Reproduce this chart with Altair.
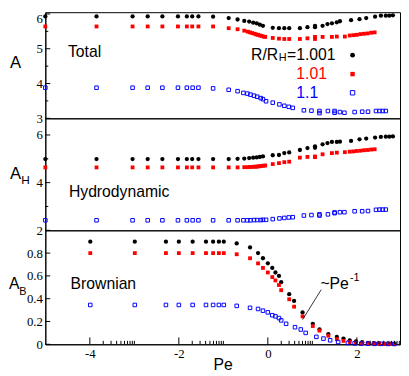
import math
import altair as alt
import pandas as pd

# ---------------- data (x = log10 Pe) ----------------
# upper two panels (A and A_H) share x positions per series
x_black = [-5, -3.85, -3.04, -2.70, -2.37, -2.02, -1.82, -1.70, -1.56, -1.23, -0.88, -0.68, -0.53,
           -0.42, -0.33, -0.25, -0.18, -0.11, 0.11, 0.25, 0.37, 0.48, 0.72, 0.89, 1.06, 1.06, 1.23,
           1.34, 1.44, 1.55, 1.62, 1.87, 2.06, 2.21, 2.41, 2.54, 2.65, 2.73, 2.81]
A_black = [5.93] * 9 + [5.92, 5.88, 5.84, 5.80, 5.78, 5.75, 5.73, 5.69, 5.66, 5.60, 5.59, 5.59, 5.59,
                        5.59, 5.62, 5.62, 5.66, 5.66, 5.71, 5.73, 5.76, 5.79, 5.82, 5.85, 5.88, 5.92,
                        5.95, 5.95, 5.95, 5.96]
AH_black = [4.99] * 9 + [4.99, 4.99, 5.00, 5.01, 5.03, 5.05, 5.06, 5.08, 5.10, 5.15, 5.16, 5.24, 5.27,
                         5.37, 5.45, 5.46, 5.52, 5.61, 5.66, 5.71, 5.71, 5.72, 5.75, 5.82, 5.85, 5.89,
                         5.92, 5.93, 5.93, 5.94]

x_red = [-5, -3.85, -3.04, -2.70, -2.37, -2.02, -1.82, -1.70, -1.56, -1.23, -0.88, -0.68, -0.53, -0.45,
         -0.40, -0.35, -0.30, -0.26, -0.22, -0.18, -0.14, -0.10, -0.06, 0.11, 0.25, 0.37, 0.48, 0.72,
         0.89, 1.06, 1.06, 1.23, 1.44, 1.55, 1.73, 1.84, 1.92, 2.00, 2.08, 2.16, 2.24, 2.32, 2.40]
A_red = [5.64] * 10 + [5.59, 5.56, 5.52, 5.49, 5.47, 5.45, 5.43, 5.41, 5.40, 5.38, 5.37, 5.35, 5.34,
                       5.31, 5.29, 5.28, 5.28, 5.28, 5.30, 5.34, 5.28, 5.34, 5.34, 5.35, 5.35,
                       5.38, 5.39, 5.40, 5.42, 5.43, 5.44, 5.46, 5.47]
AH_red = [4.64] * 10 + [4.64, 4.64, 4.65, 4.65, 4.66, 4.66, 4.67, 4.67, 4.68, 4.69, 4.70, 4.71, 4.72,
                        4.78, 4.82, 4.86, 4.88, 5.05, 5.08, 5.10, 5.07, 5.19, 5.24, 5.26, 5.28,
                        5.30, 5.31, 5.33, 5.34, 5.36, 5.37, 5.39, 5.40]

x_blue = [-5, -3.85, -3.04, -2.70, -2.37, -2.02, -1.82, -1.69, -1.56, -1.23, -0.88, -0.68, -0.55, -0.46,
          -0.39, -0.31, -0.24, -0.16, -0.11, -0.04, 0.11, 0.26, 0.37, 0.47, 0.56, 0.81, 0.98, 1.16,
          1.16, 1.35, 1.50, 1.50, 1.62, 1.72, 1.95, 2.12, 2.25, 2.43, 2.51, 2.58, 2.65]
A_blue = [3.88] * 9 + [3.86, 3.82, 3.78, 3.73, 3.71, 3.68, 3.65, 3.62, 3.58, 3.55, 3.49, 3.45, 3.40,
                       3.36, 3.33, 3.30, 3.23, 3.22, 3.21, 3.15, 3.21, 3.21, 3.16, 3.18, 3.16, 3.18,
                       3.19, 3.19, 3.21, 3.21, 3.21, 3.21]
AH_blue = [2.42] * 10 + [2.42, 2.42, 2.42, 2.42, 2.42, 2.43, 2.43, 2.43, 2.44, 2.44, 2.47, 2.50, 2.52,
                         2.54, 2.55, 2.62, 2.64, 2.67, 2.62, 2.67, 2.72, 2.75, 2.76, 2.76, 2.80, 2.80,
                         2.81, 2.86, 2.87, 2.87, 2.87]

# bottom panel (A_B)
xb_dots = [-3.99, -2.99, -2.29, -2.0, -1.69, -1.39, -1.23, -1.10, -0.99, -0.70, -0.40, -0.22, -0.11,
           0.0, 0.10, 0.17, 0.25, 0.30, 0.48, 0.59, 0.78, 1.01, 1.16, 1.36, 1.55, 1.70, 1.84, 1.98,
           2.12, 2.25, 2.38, 2.50, 2.62, 2.74, 2.84]
AB_black = [0.90] * 9 + [0.885, 0.85, 0.80, 0.755, 0.71, 0.67, 0.63, 0.60, 0.545, 0.44, 0.38, 0.28,
                         0.18, 0.13, 0.09, 0.065, 0.05, 0.035, 0.025, 0.018, 0.013, 0.01, 0.008,
                         0.006, 0.005, 0.004]
AB_red = [0.80] * 9 + [0.79, 0.755, 0.71, 0.67, 0.63, 0.59, 0.56, 0.52, 0.475, 0.395, 0.33, 0.245,
                       0.16, 0.12, 0.075, 0.045, 0.03, 0.02, 0.015, 0.01, 0.008, 0.006, 0.005,
                       0.004, 0.003, 0.003]
xb_blue = [-3.99, -2.99, -2.29, -2.0, -1.69, -1.39, -1.23, -1.10, -0.99, -0.70, -0.40, -0.22, -0.11,
           0.0, 0.10, 0.17, 0.25, 0.30, 0.41, 0.61, 0.74, 0.85, 1.09, 1.25, 1.40, 1.58, 1.80, 1.95,
           2.10, 2.25, 2.40, 2.55, 2.70, 2.84]
AB_blue = [0.345] * 9 + [0.337, 0.32, 0.31, 0.295, 0.28, 0.255, 0.245, 0.23, 0.21, 0.18, 0.15, 0.13,
                         0.10, 0.065, 0.05, 0.035, 0.02, 0.012, 0.008, 0.006, 0.005, 0.004, 0.004,
                         0.003, 0.003]

pe_line_x = [0.78, 1.20]
pe_line_y = [0.216, 0.48]

legend_labels = ["1.001", "1.01", "1.1"]
x_major = [-4, -2, 0, 2]
y1_major, y1_minor = [3, 4, 5, 6], [3.5, 4.5, 5.5]
y2_major, y2_minor = [2, 4, 6], [3, 5]
y3_major = [0, 0.2, 0.4, 0.6, 0.8]

# ---------------- styling ----------------
W = 361
H1, H2, H3 = 108, 114, 116
XDOM = [-5, 2.97]
SANS = "Liberation Sans"
SERIF = "Liberation Serif"
BLACK, RED, BLUE = "#000000", "#ff0000", "#0000ff"

xscale = alt.Scale(domain=XDOM, nice=False, zero=False)


def df(xs, ys):
    return pd.DataFrame({"x": xs, "y": ys})


def pts(data, kind, yscale, xaxis, yaxis):
    if kind == "black":
        mk = alt.Chart(data).mark_point(shape="circle", filled=True, size=19, color=BLACK, opacity=1)
    elif kind == "red":
        mk = alt.Chart(data).mark_point(shape="square", filled=True, size=15, color=RED, opacity=1)
    else:
        mk = alt.Chart(data).mark_point(shape="square", filled=False, size=13, color=BLUE,
                                        strokeWidth=1, opacity=1)
    return mk.encode(x=alt.X("x:Q", scale=xscale, axis=xaxis),
                     y=alt.Y("y:Q", scale=yscale, axis=yaxis))


def yticks(vals, length, yscale, yaxis):
    return alt.Chart(pd.DataFrame({"y": vals})).mark_rule(color=BLACK, strokeWidth=1).encode(
        y=alt.Y("y:Q", scale=yscale, axis=yaxis), x=alt.value(0), x2=alt.value(length))


def xticks(vals, length, xaxis, h):
    return alt.Chart(pd.DataFrame({"x": vals})).mark_rule(color=BLACK, strokeWidth=1).encode(
        x=alt.X("x:Q", scale=xscale, axis=xaxis), y=alt.value(h), y2=alt.value(h - length))


def txt(s, x, y, size=16, color=BLACK, align="left", font=SANS):
    return alt.Chart(pd.DataFrame({"t": [s]})).mark_text(
        align=align, baseline="middle", fontSize=size, font=font, color=color).encode(
        x=alt.value(x), y=alt.value(y), text="t:N")


def sym(kind, x, y):
    d = pd.DataFrame({"k": [kind]})
    if kind == "black":
        m = alt.Chart(d).mark_point(shape="circle", filled=True, size=24, color=BLACK, opacity=1)
    elif kind == "red":
        m = alt.Chart(d).mark_point(shape="square", filled=True, size=20, color=RED, opacity=1)
    else:
        m = alt.Chart(d).mark_point(shape="square", filled=False, size=20, color=BLUE,
                                    strokeWidth=1, opacity=1)
    return m.encode(x=alt.value(x), y=alt.value(y))


def make_yaxis(vals, offset_top=None):
    extra = {}
    if offset_top is not None:
        extra["labelOffset"] = {"condition": {"test": "datum.value == %g" % offset_top, "value": 5},
                                "value": 0}
    return alt.Axis(values=vals, format="~g", title=None, ticks=False, tickSize=0, labelPadding=3,
                    labelFont=SERIF, labelFontSize=13, labelColor=BLACK, domainColor=BLACK,
                    grid=False, **extra)


# ---------------- top panel: A ----------------
ys1 = alt.Scale(domain=[3, 6.05], nice=False, zero=False)
ya1 = make_yaxis(y1_major, offset_top=6)
top = alt.layer(
    pts(df(x_black, A_black), "black", ys1, None, ya1),
    pts(df(x_red, A_red), "red", ys1, None, ya1),
    pts(df(x_blue, A_blue), "blue", ys1, None, ya1),
    yticks(y1_major, 5, ys1, ya1),
    yticks(y1_minor, 3, ys1, ya1),
    txt("A", -36, 52, size=17),
    txt("Total", 23, 41),
    txt("R/R", 237, 43.5, align="right"),
    txt("H", 237.5, 47, size=11),
    txt("=" + legend_labels[0], 246, 43.5),
    txt(legend_labels[1], 255.5, 63, color=RED),
    txt(legend_labels[2], 255.5, 82, color=BLUE),
    sym("black", 312.7, 43.7),
    sym("red", 312.7, 63),
    sym("blue", 312.7, 82),
).properties(width=W, height=H1)

# ---------------- middle panel: A_H ----------------
ys2 = alt.Scale(domain=[2, 6.7], nice=False, zero=False)
ya2 = make_yaxis(y2_major)
mid = alt.layer(
    pts(df(x_black, AH_black), "black", ys2, None, ya2),
    pts(df(x_red, AH_red), "red", ys2, None, ya2),
    pts(df(x_blue, AH_blue), "blue", ys2, None, ya2),
    yticks(y2_major, 5, ys2, ya2),
    yticks(y2_minor, 3, ys2, ya2),
    txt("A", -36, 56.5, size=17),
    txt("H", -24.5, 62.5, size=12),
    txt("Hydrodynamic", 24, 75),
).properties(width=W, height=H2)

# ---------------- bottom panel: A_B ----------------
ys3 = alt.Scale(domain=[0, 1.0], nice=False, zero=False)
ya3 = make_yaxis(y3_major)
xa3 = alt.Axis(values=x_major, title="Pe", ticks=False, tickSize=0, labelPadding=3,
               labelExpr="datum.value < 0 ? '-' + abs(datum.value) : '' + datum.value",
               labelFont=SERIF, labelFontSize=13, labelColor=BLACK, domainColor=BLACK,
               titleFont=SANS, titleFontSize=16, titleFontWeight="normal",
               titleColor=BLACK, titleBaseline="alphabetic", titleY=25.5, grid=False)
minor_x = [m + math.log10(k) for m in x_major for k in range(2, 11) if m + math.log10(k) <= XDOM[1]]
line_df = pd.DataFrame({"x": [pe_line_x[0]], "x2": [pe_line_x[1]],
                        "y": [pe_line_y[0]], "y2": [pe_line_y[1]]})
bot = alt.layer(
    pts(df(xb_dots, AB_black), "black", ys3, xa3, ya3),
    pts(df(xb_dots, AB_red), "red", ys3, xa3, ya3),
    pts(df(xb_blue, AB_blue), "blue", ys3, xa3, ya3),
    yticks(y3_major, 5, ys3, ya3),
    xticks(x_major, 7, xa3, H3),
    xticks(minor_x, 3.5, xa3, H3),
    alt.Chart(line_df).mark_rule(color=BLACK, strokeWidth=0.8).encode(
        x=alt.X("x:Q", scale=xscale, axis=xa3), x2="x2",
        y=alt.Y("y:Q", scale=ys3, axis=ya3), y2="y2"),
    txt("A", -37, 54.7, size=16),
    txt("B", -26.5, 63, size=11),
    txt("Brownian", 25.7, 54.7),
    txt("~Pe", 280, 55),
    txt("-1", 310, 48.5, size=11),
).properties(width=W, height=H3)

chart = alt.vconcat(top, mid, bot, spacing=0, bounds="flush").properties(
    padding={"left": 0, "top": 0, "right": 0, "bottom": 0}
).configure_view(stroke=BLACK, strokeWidth=1)

chart.save("out.html", embed_options={"renderer": "svg", "actions": False})
